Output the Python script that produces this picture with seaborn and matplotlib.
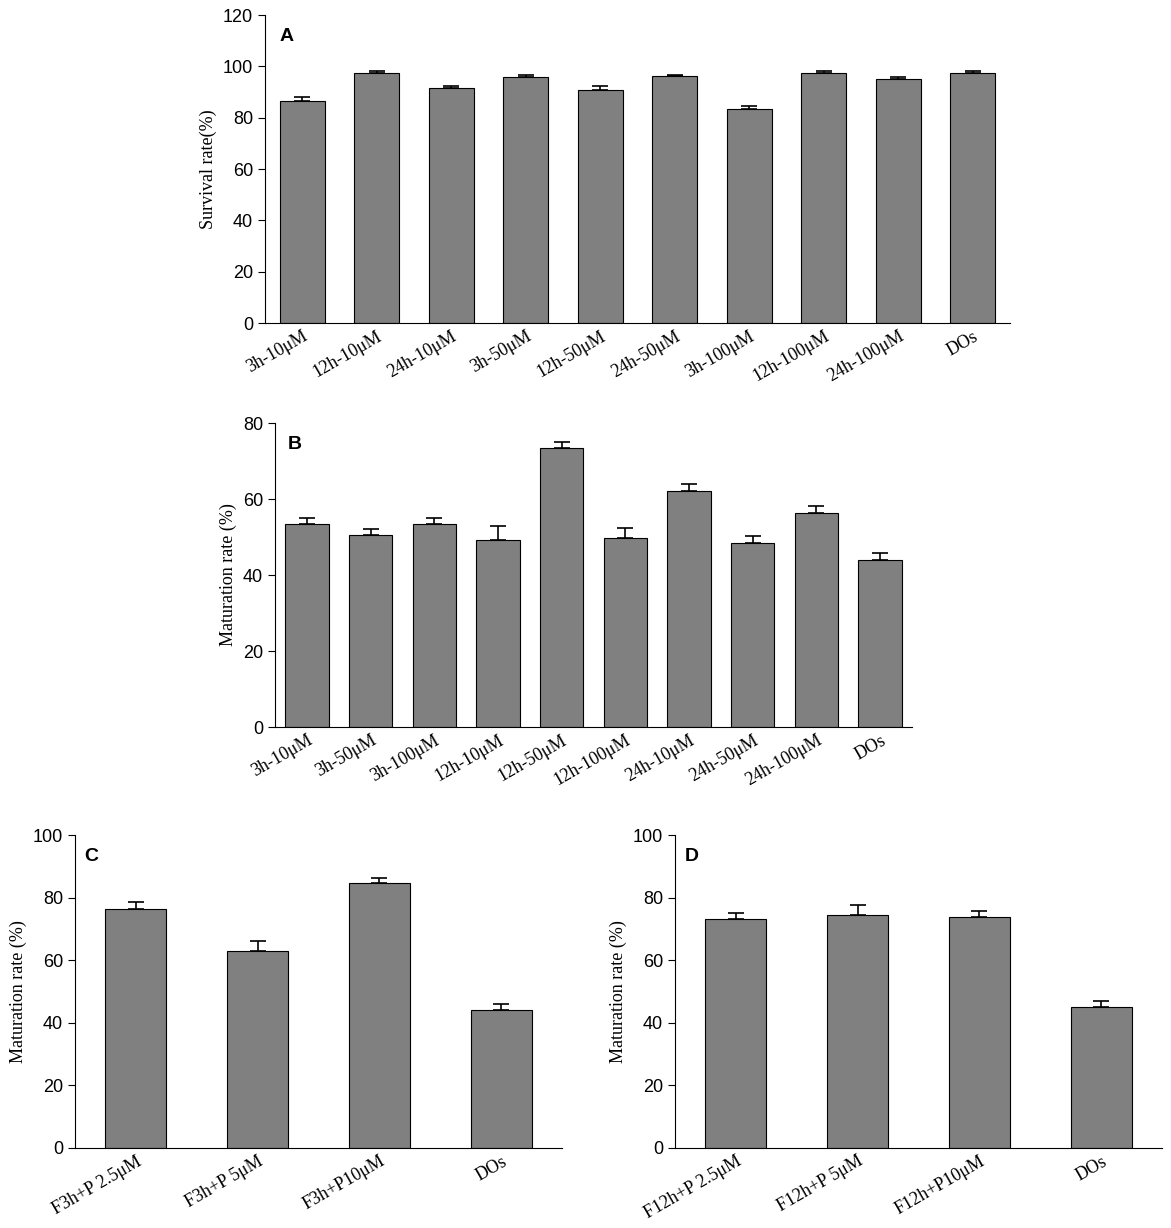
import matplotlib
matplotlib.use("Agg")
import matplotlib.pyplot as plt
import seaborn as sns
import pandas as pd
import numpy as np

a_labels = ["3h-10μM","12h-10μM","24h-10μM","3h-50μM","12h-50μM","24h-50μM","3h-100μM","12h-100μM","24h-100μM","DOs"]
a_vals = [86.5,97.5,91.5,95.8,90.8,96.2,83.2,97.5,95.2,97.5]
a_err = [1.6,0.5,1.0,1.0,1.5,0.5,1.2,0.5,0.6,0.6]

b_labels = ["3h-10μM","3h-50μM","3h-100μM","12h-10μM","12h-50μM","12h-100μM","24h-10μM","24h-50μM","24h-100μM","DOs"]
b_vals = [53.5,50.5,53.5,49.3,73.5,49.8,62.0,48.5,56.2,44.0]
b_err = [1.5,1.5,1.5,3.5,1.5,2.5,2.0,1.7,2.0,1.7]

c_labels = ["F3h+P 2.5μM","F3h+P 5μM","F3h+P10μM","DOs"]
c_vals = [76.5,63.0,84.8,44.2]
c_err = [2.0,3.2,1.5,1.8]

d_labels = ["F12h+P 2.5μM","F12h+P 5μM","F12h+P10μM","DOs"]
d_vals = [73.3,74.3,73.8,45.0]
d_err = [1.7,3.3,2.0,2.0]

W, H = 1171, 1228
fig = plt.figure(figsize=(W/100, H/100), dpi=100)

def axes_px(l, r, t, b):
    return fig.add_axes([l/W, 1-b/H, (r-l)/W, (b-t)/H])

def panel(ax, labels, vals, err, ymax, step, ylabel, letter, width):
    df = pd.DataFrame({"g": labels, "v": vals})
    sns.barplot(data=df, x="g", y="v", ax=ax, color="#808080", saturation=1,
                edgecolor="black", linewidth=0.8, width=width, errorbar=None)
    x = np.arange(len(vals))
    ax.errorbar(x, vals, yerr=[np.zeros(len(err)), err], fmt="none",
                ecolor="black", elinewidth=1.2, capsize=6, capthick=1.2)
    ax.set_ylim(0, ymax)
    ax.set_xlim(-0.5, len(vals)-0.5)
    ax.set_yticks(np.arange(0, ymax+1, step))
    for s in ["top", "right"]:
        ax.spines[s].set_visible(False)
    ax.tick_params(direction="out", length=5)
    ax.tick_params(axis="x", length=0)
    ax.set_xlabel("")
    ax.set_ylabel(ylabel, family="Liberation Serif", fontsize=13)
    for t in ax.get_yticklabels():
        t.set_family("Liberation Sans"); t.set_fontsize(13)
    ax.set_xticks(x)
    ax.set_xticklabels(labels, rotation=30, ha="right", rotation_mode="anchor",
                       family="Liberation Serif", fontsize=13)
    ax.text(0.02, 0.93, letter, transform=ax.transAxes, fontweight="bold",
            family="Liberation Sans", fontsize=14, va="center")

panel(axes_px(265, 1010, 15, 323), a_labels, a_vals, a_err, 120, 20, "Survival rate(%)", "A", 0.6)
panel(axes_px(275, 912, 423, 727), b_labels, b_vals, b_err, 80, 20, "Maturation rate (%)", "B", 0.68)
panel(axes_px(75, 562, 835, 1148), c_labels, c_vals, c_err, 100, 20, "Maturation rate (%)", "C", 0.5)
panel(axes_px(675, 1162, 835, 1148), d_labels, d_vals, d_err, 100, 20, "Maturation rate (%)", "D", 0.5)

fig.savefig("out.png", dpi=100)
